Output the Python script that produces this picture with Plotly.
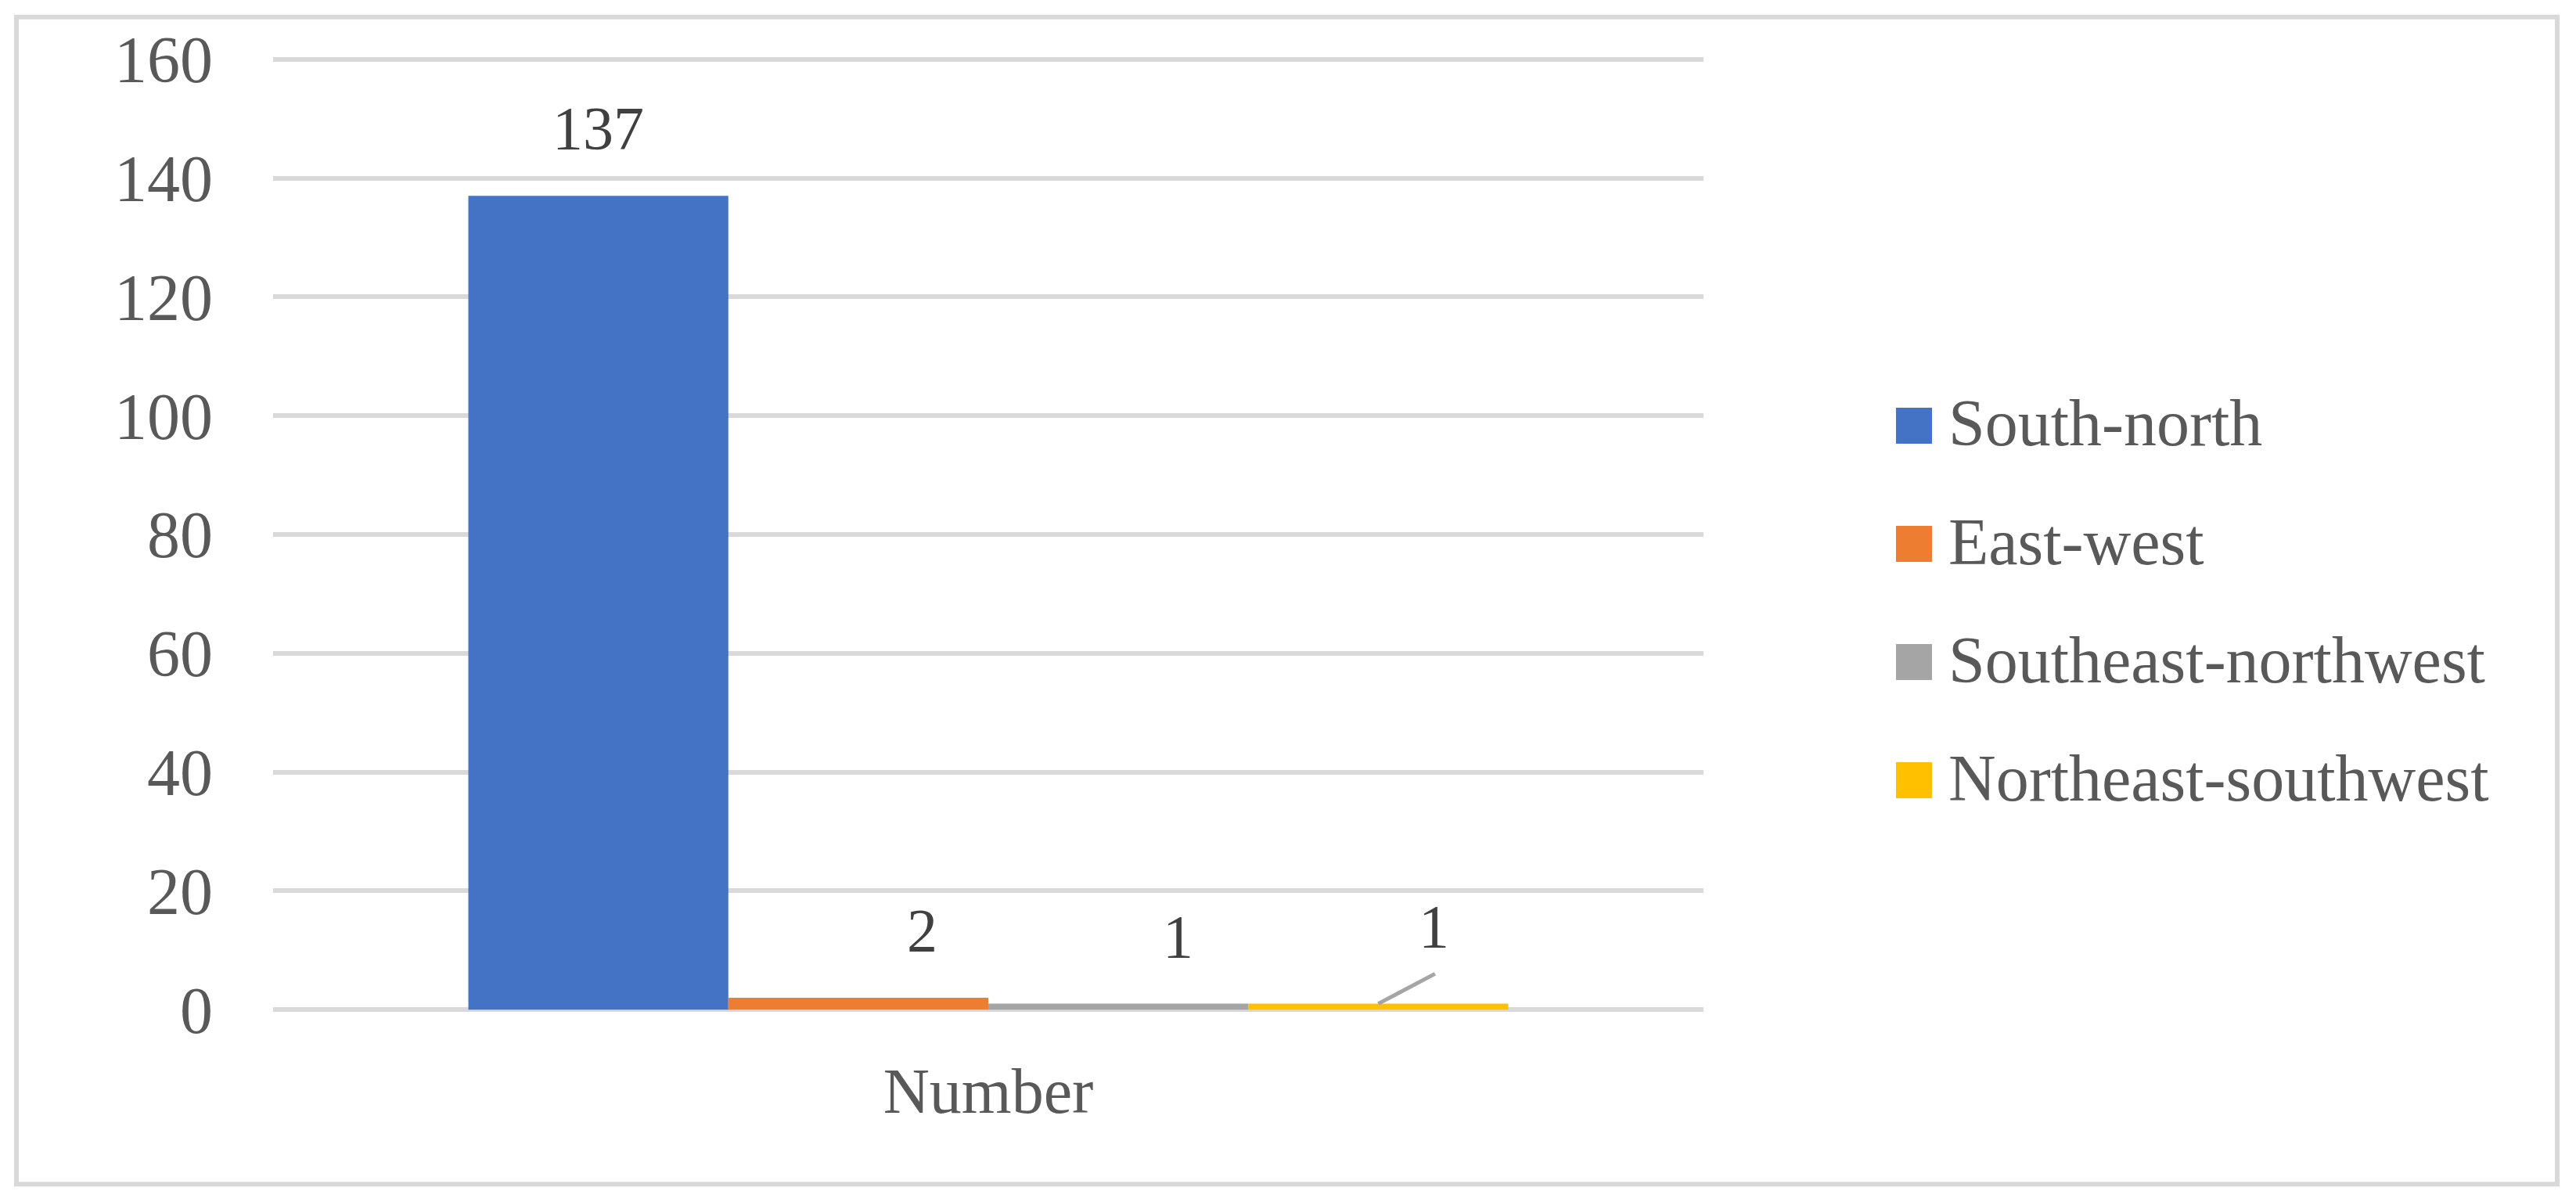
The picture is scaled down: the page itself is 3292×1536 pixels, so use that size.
import plotly.graph_objects as go

# data
categories = ["Number"]
series_names = ["South-north", "East-west", "Southeast-northwest", "Northeast-southwest"]
series_values = [137, 2, 1, 1]
y_ticks = [0, 20, 40, 60, 80, 100, 120, 140, 160]

# styling
colors = ["#4472C4", "#ED7D31", "#A5A5A5", "#FFC000"]
label_xshift = [0, 82, 76, 71]     # excel nudged the small labels to the right
label_yshift = [41, 41, 41, 54]
FONT = "Liberation Serif"

OFF = 8                              # browser body margin eats 8px
W, H = 3292 - OFF, 1536 - OFF
X0, X1, Y160, Y0 = 349 - OFF, 2177 - OFF, 76 - OFF, 1290 - OFF   # grid extent in px
pad = 0.5                            # a bit of slack so the 0 / 160 gridlines show
k = (Y0 - Y160) / 160
L, R = X0, X1
T, B = Y160 - pad * k, Y0 + pad * k
bargap = 0.273


def px_x(p):
    return (p - OFF - L) / (R - L)


def px_y(p):
    return (B - (p - OFF)) / (B - T)


fig = go.Figure()

for name, val, col in zip(series_names, series_values, colors):
    fig.add_trace(go.Bar(
        x=categories,
        y=[val],
        name=name,
        marker=dict(color=col, line=dict(width=0)),
        showlegend=False,
    ))

# bar centres in category units, used for the value labels
n = len(series_names)
bw = (1 - bargap) / n
centres = [-(1 - bargap) / 2 + bw * (i + 0.5) for i in range(n)]

annotations = []
for i, val in enumerate(series_values):
    annotations.append(dict(
        x=centres[i], y=val, xref="x", yref="y",
        text=str(val), showarrow=False,
        xanchor="center", yanchor="bottom",
        xshift=label_xshift[i], yshift=label_yshift[i],
        font=dict(family=FONT, size=78, color="#404040"),
    ))

# leader line for the last (moved) label
annotations.append(dict(
    x=centres[-1], y=series_values[-1], xref="x", yref="y",
    text="", showarrow=True, arrowhead=0, arrowwidth=5,
    arrowcolor="#A5A5A5", ax=74, ay=-39, standoff=0, startstandoff=0,
))

# hand-made legend with big square swatches
shapes = []
row_y = [544, 695, 846, 997]
for name, col, ry in zip(series_names, colors, row_y):
    shapes.append(dict(
        type="rect", xref="paper", yref="paper",
        x0=px_x(2423), x1=px_x(2469), y0=px_y(ry + 23), y1=px_y(ry - 23),
        fillcolor=col, line=dict(width=0),
    ))
    annotations.append(dict(
        x=px_x(2488), y=px_y(ry - 3), xref="paper", yref="paper",
        text=name, showarrow=False, xanchor="left", yanchor="middle",
        font=dict(family=FONT, size=84, color="#595959"),
    ))

# outer frame of the chart
shapes.append(dict(
    type="rect", xref="paper", yref="paper",
    x0=px_x(21), x1=px_x(3268), y0=px_y(1513), y1=px_y(22),
    line=dict(color="#D9D9D9", width=6), fillcolor="rgba(0,0,0,0)",
    layer="below",
))

fig.update_layout(
    width=W, height=H,
    margin=dict(l=L, r=W - R, t=T, b=H - B, pad=0),
    paper_bgcolor="white", plot_bgcolor="white",
    barmode="group", bargap=bargap, bargroupgap=0,
    font=dict(family=FONT, color="#595959"),
    annotations=annotations, shapes=shapes,
    xaxis=dict(
        showgrid=False, zeroline=False, showline=False, ticks="",
        tickfont=dict(family=FONT, size=82, color="#595959"),
        ticklabelstandoff=45,
    ),
    yaxis=dict(
        range=[-pad, 160 + pad], tickvals=y_ticks,
        showgrid=True, gridcolor="#D9D9D9", gridwidth=6,
        zeroline=False, showline=False, ticks="",
        tickfont=dict(family=FONT, size=84, color="#595959"),
        ticklabelstandoff=76,
    ),
)

fig.write_html("out.html")
